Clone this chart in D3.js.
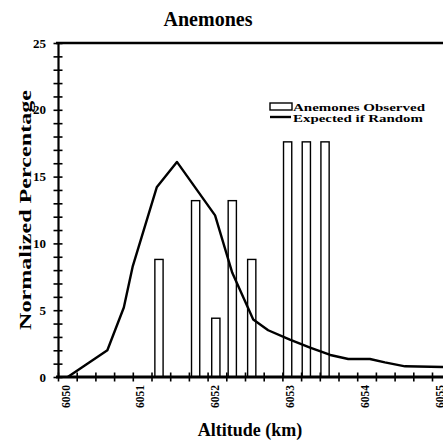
<!DOCTYPE html>
<html>
<head>
<meta charset="utf-8">
<script src="https://cdn.jsdelivr.net/npm/d3@7"></script>
<style>
  body { margin: 0; background: #fff; }
  svg { display: block; }
  text { font-family: 'Liberation Serif', 'Times New Roman', serif; font-weight: bold; fill: #000; }
</style>
</head>
<body>
<script>
const W = 443, H = 440;

// observed bars (altitude km, normalized %)
const barAltitudes = [6051.35, 6051.84, 6052.11, 6052.33, 6052.59, 6053.07, 6053.32, 6053.57];
const barValues = [8.8, 13.2, 4.4, 13.2, 8.8, 17.6, 17.6, 17.6];

// expected if random
const lineAltitudes = [6050.13, 6050.66, 6050.88, 6051.0, 6051.32, 6051.59, 6052.10, 6052.33, 6052.61,
    6052.81, 6053.10, 6053.37, 6053.64, 6053.88, 6054.17, 6054.37, 6054.64, 6055.15];
const lineValues = [0, 2.0, 5.2, 8.3, 14.2, 16.1, 12.1, 7.8, 4.3,
    3.5, 2.8, 2.2, 1.65, 1.35, 1.35, 1.1, 0.8, 0.75];

const xTickLabels = [6050, 6051, 6052, 6053, 6054, 6055];
const yTickLabels = [0, 5, 10, 15, 20, 25];
const legendLabels = ['Anemones Observed', 'Expected if Random'];

const x = d3.scaleLinear().domain([6050, 6055]).range([58, 432]);
const y = d3.scaleLinear().domain([0, 25]).range([377, 43]);
const xEnd = 443;

const svg = d3.select('body').append('svg')
    .attr('width', W)
    .attr('height', H);

// title
svg.append('text')
    .attr('x', 208).attr('y', 26)
    .attr('text-anchor', 'middle')
    .style('font-size', '20px')
    .text('Anemones');

// bars
const barW = 0.11;
svg.selectAll('.bar')
    .data(barAltitudes)
    .enter()
    .append('rect')
    .attr('class', 'bar')
    .attr('x', d => x(d - barW / 2))
    .attr('y', (d, i) => y(barValues[i]))
    .attr('width', x(6050 + barW) - x(6050))
    .attr('height', (d, i) => y(0) - y(barValues[i]))
    .attr('fill', '#fff')
    .attr('stroke', '#000')
    .attr('stroke-width', 1.4);

// expected line
const line = d3.line()
    .x(d => x(d[0]))
    .y(d => y(d[1]));
svg.append('path')
    .attr('d', line(lineAltitudes.map((a, i) => [a, lineValues[i]])))
    .attr('fill', 'none')
    .attr('stroke', '#000')
    .attr('stroke-width', 2.4)
    .attr('stroke-linejoin', 'round');

// top frame
svg.append('line')
    .attr('x1', x(6050) - 2).attr('x2', xEnd)
    .attr('y1', y(25)).attr('y2', y(25))
    .attr('stroke', '#000').attr('stroke-width', 2.5);

// y axis, minor ticks crossing the line
const yMinor = svg.append('g')
    .attr('transform', 'translate(' + x(6050) + ',0)')
    .call(d3.axisLeft(y).tickValues(d3.range(0, 26, 1)).tickFormat('').tickSizeOuter(0));
yMinor.select('.domain').attr('stroke-width', 2.2);
yMinor.selectAll('.tick line').attr('x1', -4.5).attr('x2', 4.5).attr('stroke-width', 1.6);

const yLab = svg.append('g')
    .attr('transform', 'translate(' + x(6050) + ',0)')
    .call(d3.axisLeft(y).tickValues(yTickLabels).tickSize(0).tickPadding(12));
yLab.select('.domain').remove();
yLab.selectAll('text').style('font-size', '13px').style('font-family', null);

// x axis
const xMinor = svg.append('g')
    .attr('transform', 'translate(0,' + y(0) + ')')
    .call(d3.axisBottom(x).tickValues(d3.range(6050, 6055.01, 0.25)).tickFormat('').tickSizeOuter(0));
xMinor.select('.domain').attr('d', 'M' + (x(6050) - 2) + ',0H' + xEnd).attr('stroke-width', 3);
xMinor.selectAll('.tick line').attr('y1', -4.5).attr('y2', 4.5).attr('stroke-width', 1.6);

const xLab = svg.append('g')
    .attr('transform', 'translate(0,' + y(0) + ')')
    .call(d3.axisBottom(x).tickValues(xTickLabels).tickSize(0).tickFormat(d3.format('d')));
xLab.select('.domain').remove();
xLab.selectAll('text')
    .attr('x', 0).attr('y', 0).attr('dy', 0)
    .attr('text-anchor', 'end')
    .attr('transform', 'translate(11,8) rotate(-90)')
    .style('font-size', '11.5px')
    .style('font-family', null);

// axis titles
svg.append('text')
    .attr('x', 250).attr('y', 436)
    .attr('text-anchor', 'middle')
    .style('font-size', '18px')
    .text('Altitude (km)');
svg.append('text')
    .attr('transform', 'translate(31,' + ((y(0) + y(25)) / 2) + ') rotate(-90)')
    .attr('text-anchor', 'middle')
    .attr('textLength', 240)
    .attr('lengthAdjust', 'spacingAndGlyphs')
    .style('font-size', '17px')
    .text('Normalized Percentage');

// legend
const legend = svg.append('g').attr('transform', 'translate(270,103)');
legend.append('rect')
    .attr('x', 0).attr('y', 0).attr('width', 22).attr('height', 7)
    .attr('fill', '#fff').attr('stroke', '#000').attr('stroke-width', 1.4);
legend.append('line')
    .attr('x1', 0).attr('x2', 21).attr('y1', 14).attr('y2', 14)
    .attr('stroke', '#000').attr('stroke-width', 2.4);
legend.selectAll('.lg')
    .data(legendLabels)
    .enter()
    .append('text')
    .attr('class', 'lg')
    .attr('x', 23)
    .attr('y', (d, i) => 8 + i * 11)
    .attr('textLength', (d, i) => i === 0 ? 132 : 130)
    .attr('lengthAdjust', 'spacingAndGlyphs')
    .style('font-size', '10.5px')
    .text(d => d);
</script>
</body>
</html>
